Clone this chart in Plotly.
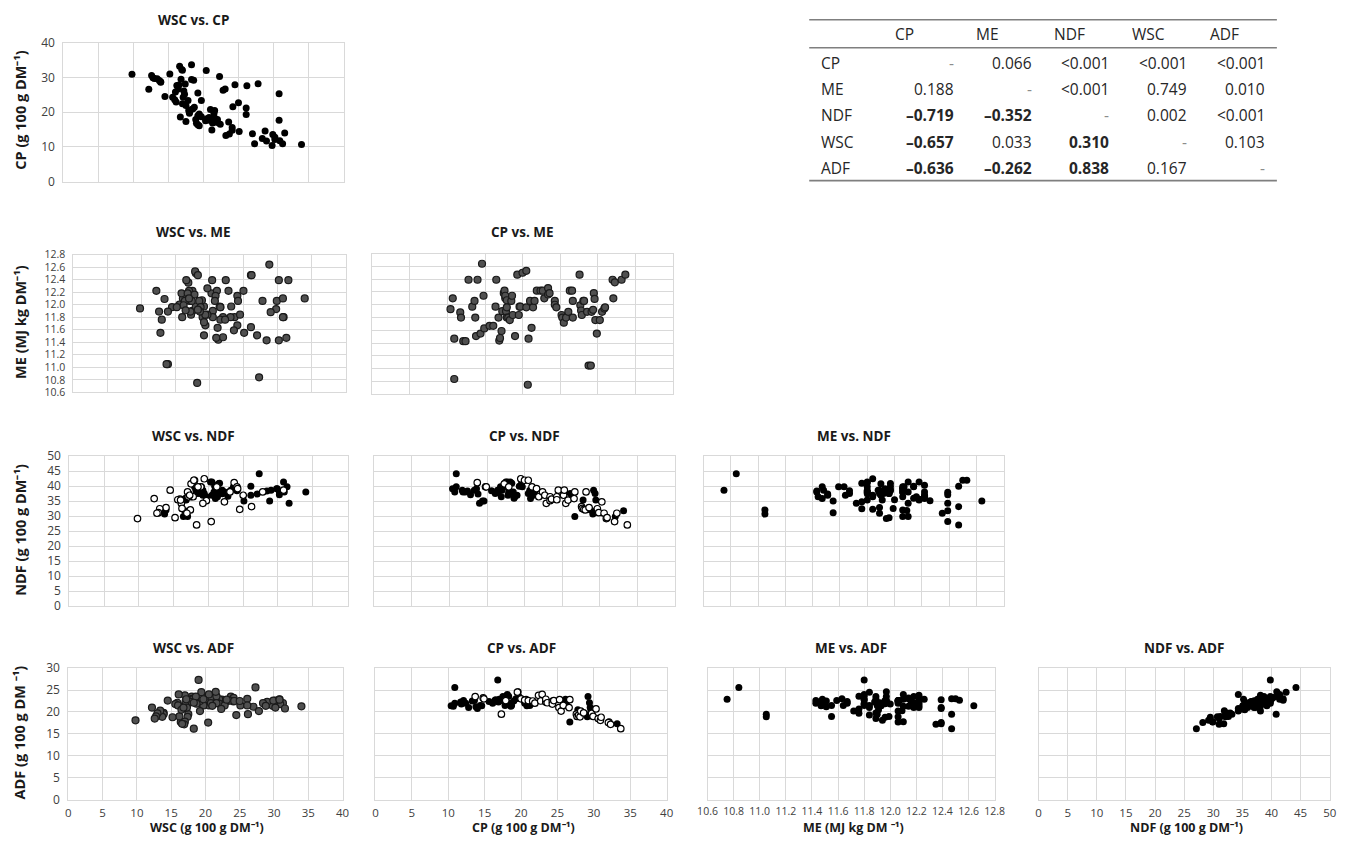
import plotly.graph_objects as go

W, H = 1351, 845

# ---------------- data (one entry per sample) ----------------
cp = [10.4, 10.7, 10.9, 10.9, 11.7, 11.8, 12.1, 12.4, 12.8, 13.3,
      13.6, 13.7, 13.8, 14.0, 14.4, 14.6, 14.8, 14.9, 15.6, 16.1,
      16.4, 16.5, 16.8, 16.9, 17.0, 17.2, 17.3, 17.5, 17.6, 17.7,
      17.7, 17.8, 17.9, 17.9, 17.9, 18.1, 18.3, 18.5, 18.6, 18.7,
      19.0, 19.3, 19.5, 19.6, 19.7, 20.0, 20.5, 20.5, 20.7, 20.8,
      21.0, 21.2, 21.4, 21.6, 21.9, 22.4, 22.7, 22.9, 23.4, 23.4,
      23.6, 24.3, 24.3, 24.5, 25.2, 25.3, 25.5, 25.8, 26.1, 26.3,
      26.6, 26.7, 26.7, 27.6, 27.7, 27.8, 27.9, 28.1, 28.2, 28.6,
      28.8, 29.1, 29.2, 29.4, 29.5, 29.6, 29.7, 29.9, 30.3, 30.6,
      30.9, 31.0, 32.0, 32.1, 32.3, 33.2, 33.7]
me = [11.93, 12.10, 10.84, 11.47, 11.88, 11.80, 11.43, 11.43, 12.39, 11.97,
      12.06, 11.80, 11.51, 12.39, 11.55, 12.64, 12.14, 11.63, 11.67, 11.67,
      11.97, 12.39, 11.80, 11.44, 11.48, 11.59, 11.90, 12.18, 12.22, 12.10,
      12.14, 11.90, 12.07, 11.96, 11.80, 11.80, 11.76, 12.06, 12.14, 11.84,
      11.51, 12.47, 11.84, 11.97, 11.97, 12.50, 12.53, 11.96, 10.75, 11.47,
      12.06, 11.64, 11.96, 12.06, 12.22, 12.22, 12.22, 12.10, 12.16, 12.26,
      12.18, 12.06, 12.00, 11.96, 11.84, 11.80, 11.72, 11.80, 11.89, 12.22,
      12.22, 12.06, 11.80, 12.47, 11.99, 11.91, 11.84, 12.06, 12.06, 11.89,
      11.05, 11.05, 11.89, 11.92, 12.18, 12.09, 11.76, 11.55, 11.76, 11.89,
      11.94, 11.96, 12.39, 12.10, 12.35, 12.39, 12.47]
wsc = [29.8, 34.0, 27.3, 31.3, 29.0, 30.9, 30.2, 28.4, 30.2, 23.2,
       29.9, 23.7, 27.0, 31.6, 25.1, 28.8, 24.1, 21.2, 24.1, 19.4,
       19.2, 22.4, 19.0, 21.3, 22.0, 23.6, 17.5, 20.3, 21.1, 30.8,
       20.9, 20.5, 18.9, 21.6, 22.0, 20.5, 21.6, 20.8, 16.7, 19.7,
       19.2, 26.1, 19.4, 21.5, 18.0, 18.0, 17.9, 21.6, 18.2, 21.0,
       18.5, 26.1, 18.7, 24.2, 17.5, 17.0, 25.0, 16.1, 17.8, 19.7,
       15.9, 17.1, 15.6, 14.5, 17.3, 30.8, 19.2, 16.0, 17.2, 22.8,
       12.2, 16.4, 23.1, 26.2, 16.2, 16.5, 24.5, 17.4, 27.8, 13.9,
       13.9, 13.7, 18.6, 18.3, 16.8, 13.4, 13.0, 12.8, 22.3, 12.6,
       9.8, 15.2, 20.4, 17.0, 16.9, 16.6, 18.3]
ndf = [39.2, 38.1, 44.2, 39.8, 38.7, 38.1, 38.1, 38.4, 37.2, 38.7,
       39.2, 41.2, 37.4, 34.3, 35.1, 35.1, 39.8, 39.8, 38.5, 37.6,
       38.7, 38.0, 39.8, 36.5, 38.7, 39.8, 40.8, 41.4, 40.3, 41.4,
       40.0, 37.0, 39.8, 38.1, 37.5, 41.4, 41.0, 38.1, 36.0, 36.5,
       37.0, 40.0, 42.5, 40.9, 39.8, 42.0, 42.0, 37.6, 38.7, 35.9,
       39.8, 37.0, 37.6, 39.2, 36.5, 38.1, 37.0, 34.3, 36.5, 35.2,
       35.7, 36.5, 35.5, 38.7, 37.0, 38.7, 34.3, 35.4, 37.6, 36.7,
       35.9, 29.9, 38.1, 33.2, 32.6, 35.4, 32.3, 32.1, 38.1, 32.9,
       32.1, 30.7, 38.7, 37.6, 35.4, 31.9, 32.5, 31.2, 34.8, 31.0,
       29.2, 29.5, 28.2, 29.9, 31.0, 31.8, 27.1]
adf = [21.4, 21.3, 25.6, 22.0, 22.3, 21.8, 22.6, 22.0, 21.0, 22.5,
       22.6, 23.5, 21.2, 20.8, 21.5, 21.4, 23.2, 23.0, 22.4, 22.0,
       22.6, 22.8, 27.3, 22.3, 22.9, 22.6, 19.5, 23.5, 23.3, 22.9,
       23.0, 21.5, 22.6, 22.2, 21.9, 24.0, 23.6, 22.0, 21.3, 21.5,
       22.5, 23.0, 24.5, 24.6, 23.5, 23.0, 22.7, 22.0, 22.9, 21.4,
       22.6, 21.5, 21.9, 22.5, 22.0, 23.8, 22.5, 24.0, 22.3, 22.9,
       22.1, 22.4, 21.8, 22.6, 21.0, 22.8, 20.2, 21.5, 22.9, 21.5,
       21.0, 17.7, 22.8, 19.5, 19.0, 20.5, 19.3, 18.9, 20.2, 19.8,
       19.5, 18.9, 23.5, 22.1, 21.0, 20.3, 19.7, 19.0, 20.7, 18.5,
       18.1, 18.8, 17.6, 17.8, 17.2, 17.3, 16.2]
# 1 = filled marker, 0 = open marker (used in the split panels)
filled = [1, 1, 1, 1, 1, 1, 1, 1, 1, 1,
          1, 0, 1, 1, 1, 1, 0, 0, 1, 1,
          1, 1, 1, 1, 1, 1, 0, 1, 1, 1,
          1, 1, 0, 1, 1, 1, 1, 1, 1, 1,
          1, 1, 0, 1, 1, 0, 0, 1, 1, 1,
          0, 1, 1, 0, 0, 0, 0, 0, 0, 0,
          0, 0, 0, 0, 0, 0, 0, 0, 1, 1,
          0, 1, 0, 0, 0, 1, 0, 0, 0, 0,
          1, 1, 1, 1, 1, 1, 0, 0, 0, 0,
          0, 0, 0, 1, 0, 1, 0]

variables = {"WSC": wsc, "CP": cp, "ME": me, "NDF": ndf, "ADF": adf}
axis_range = {"WSC": [0, 40], "CP": [0, 40], "ME": [10.6, 12.8], "NDF": [0, 50], "ADF": [0, 30]}
x_dtick = {"WSC": 5, "CP": 5, "ME": 0.2, "NDF": 5}
y_dtick = {"CP": 10, "ME": 0.2, "NDF": 5, "ADF": 5}
y_titles = {"CP": "CP (g 100 g DM⁻¹)", "ME": "ME (MJ kg DM⁻¹)",
            "NDF": "NDF (g 100 g DM⁻¹)", "ADF": "ADF (g 100 g DM ⁻¹)"}
x_titles = {"WSC": "WSC (g 100 g DM⁻¹)", "CP": "CP (g 100 g DM⁻¹)",
            "ME": "ME (MJ kg DM ⁻¹)", "NDF": "NDF (g 100 g DM⁻¹)"}

table_header = ["CP", "ME", "NDF", "WSC", "ADF"]
table_rows = ["CP", "ME", "NDF", "WSC", "ADF"]
table_values = [
    ["-", "0.066", "&lt;0.001", "&lt;0.001", "&lt;0.001"],
    ["0.188", "-", "&lt;0.001", "0.749", "0.010"],
    ["–0.719", "–0.352", "-", "0.002", "&lt;0.001"],
    ["–0.657", "0.033", "0.310", "-", "0.103"],
    ["–0.636", "–0.262", "0.838", "0.167", "-"],
]
table_bold = [
    [0, 0, 0, 0, 0],
    [0, 0, 0, 0, 0],
    [1, 1, 0, 0, 0],
    [1, 0, 1, 0, 0],
    [1, 1, 1, 0, 0],
]

# ---------------- layout of panels (target pixel boxes: x0, x1, y0, y1) ----------------
panels = [
    dict(x="WSC", y="CP", style="black", box=(62, 343, 42, 181), col=0, row=0),
    dict(x="WSC", y="ME", style="gray", box=(72, 345, 254, 392), col=0, row=1),
    dict(x="CP", y="ME", style="gray", box=(372, 673, 253, 394), col=1, row=1),
    dict(x="WSC", y="NDF", style="split", box=(68, 347, 456, 606), col=0, row=2),
    dict(x="CP", y="NDF", style="split", box=(374, 675, 456, 606), col=1, row=2),
    dict(x="ME", y="NDF", style="black", box=(704, 1005, 456, 606), col=2, row=2),
    dict(x="WSC", y="ADF", style="gray", box=(67, 342, 668, 800), col=0, row=3),
    dict(x="CP", y="ADF", style="split", box=(375, 667, 668, 800), col=1, row=3),
    dict(x="ME", y="ADF", style="black", box=(708, 996, 668, 800), col=2, row=3),
    dict(x="NDF", y="ADF", style="black", box=(1040, 1332, 668, 800), col=3, row=3),
]
title_y = [19, 231, 436, 648]
title_x_col = [193, None, None, None]

# calibration of the page photograph (observed slight shrink + offset)
SX, BX = 0.988, 8.5
SY, BY = 0.981, 8.2


def fx(p):
    return ((p - BX) / SX) / W


def fy(p):
    return 1 - ((p - BY) / SY) / H


FONT = "Open Sans"
GRID = "#d9d9d9"

fig = go.Figure()
annotations = []
layout_axes = {}

for i, p in enumerate(panels):
    n = i + 1
    xs = variables[p["x"]]
    ys = variables[p["y"]]
    xa = "x" if n == 1 else f"x{n}"
    ya = "y" if n == 1 else f"y{n}"
    msize = 7
    if p["style"] == "black":
        fig.add_trace(go.Scatter(x=xs, y=ys, mode="markers", xaxis=xa, yaxis=ya,
                                 marker=dict(size=msize, color="#000000", line=dict(width=0))))
    elif p["style"] == "gray":
        fig.add_trace(go.Scatter(x=xs, y=ys, mode="markers", xaxis=xa, yaxis=ya,
                                 marker=dict(size=msize, color="#505050",
                                             line=dict(width=1.2, color="#1a1a1a"))))
    else:
        fx_f = [a for a, g in zip(xs, filled) if g == 1]
        fy_f = [b for b, g in zip(ys, filled) if g == 1]
        fx_o = [a for a, g in zip(xs, filled) if g == 0]
        fy_o = [b for b, g in zip(ys, filled) if g == 0]
        fig.add_trace(go.Scatter(x=fx_f, y=fy_f, mode="markers", xaxis=xa, yaxis=ya,
                                 marker=dict(size=msize, color="#000000", line=dict(width=0))))
        fig.add_trace(go.Scatter(x=fx_o, y=fy_o, mode="markers", xaxis=xa, yaxis=ya,
                                 marker=dict(size=msize - 0.5, color="#ffffff",
                                             line=dict(width=1.2, color="#000000"))))

    x0, x1, y0, y1 = p["box"]
    show_x = p["row"] == 3
    show_y = p["col"] == 0
    xr = axis_range[p["x"]]
    yr = axis_range[p["y"]]
    xkey = "xaxis" if n == 1 else f"xaxis{n}"
    ykey = "yaxis" if n == 1 else f"yaxis{n}"
    xfs = 10.5 if p["x"] == "ME" else 11.5
    yfs = 10.5 if p["y"] == "ME" else 12
    layout_axes[xkey] = dict(
        domain=[fx(x0), fx(x1)], anchor=ya, range=xr, tick0=xr[0], dtick=x_dtick[p["x"]],
        showgrid=True, gridcolor=GRID, gridwidth=1, zeroline=False,
        showline=True, linecolor=GRID, linewidth=1, mirror=True,
        showticklabels=show_x, ticks="outside" if show_x else "", ticklen=2,
        tickcolor="rgba(0,0,0,0)", tickformat=".1f" if p["x"] == "ME" else "d",
        tickangle=0,
        tickfont=dict(family=FONT, size=xfs, color="#404040"), fixedrange=True,
    )
    layout_axes[ykey] = dict(
        domain=[fy(y1), fy(y0)], anchor=xa, range=yr, tick0=yr[0], dtick=y_dtick[p["y"]],
        showgrid=True, gridcolor=GRID, gridwidth=1, zeroline=False,
        showline=True, linecolor=GRID, linewidth=1, mirror=True,
        showticklabels=show_y, ticks="outside" if show_y else "", ticklen=5,
        tickcolor="rgba(0,0,0,0)", tickformat=".1f" if p["y"] == "ME" else "d",
        tickfont=dict(family=FONT, size=yfs, color="#404040"), fixedrange=True,
    )

    # panel title
    tx = title_x_col[p["col"]] if title_x_col[p["col"]] else (x0 + x1) / 2
    annotations.append(dict(x=fx(tx), y=fy(title_y[p["row"]]), xref="paper", yref="paper",
                            text=f"<b>{p['x']} vs. {p['y']}</b>", showarrow=False,
                            xanchor="center", yanchor="middle",
                            font=dict(family=FONT, size=13.5, color="#1a1a1a")))
    if show_y:
        annotations.append(dict(x=fx(19), y=fy((y0 + y1) / 2 - 2), xref="paper", yref="paper",
                                text=f"<b>{y_titles[p['y']]}</b>", showarrow=False, textangle=-90,
                                xanchor="center", yanchor="middle",
                                font=dict(family=FONT, size=14.5, color="#1a1a1a")))
    if show_x:
        annotations.append(dict(x=fx((x0 + x1) / 2 + 2), y=0, xref="paper", yref="paper",
                                text=f"<b>{x_titles[p['x']]}</b>", showarrow=False,
                                xanchor="center", yanchor="bottom", borderpad=0,
                                font=dict(family=FONT, size=12.5, color="#1a1a1a")))

# ---------------- correlation table ----------------
TFONT = dict(family=FONT, size=15.5, color="#262626")
header_x = [894, 975, 1053, 1132, 1210]
value_right = [957, 1035, 1113, 1191, 1269]
row_y = [62, 88, 114.5, 141, 167]
for j, h in enumerate(table_header):
    annotations.append(dict(x=fx(header_x[j]), y=fy(33), xref="paper", yref="paper", text=h,
                            showarrow=False, xanchor="left", yanchor="middle", font=TFONT))
for r, name in enumerate(table_rows):
    annotations.append(dict(x=fx(820), y=fy(row_y[r]), xref="paper", yref="paper", text=name,
                            showarrow=False, xanchor="left", yanchor="middle", font=TFONT))
    for c, v in enumerate(table_values[r]):
        txt = f"<b>{v}</b>" if table_bold[r][c] else v
        col = "#8c8c8c" if v == "-" else "#262626"
        annotations.append(dict(x=fx(value_right[c]), y=fy(row_y[r]), xref="paper", yref="paper",
                                text=txt, showarrow=False, xanchor="right", yanchor="middle",
                                font=dict(family=FONT, size=15.5, color=col)))

shapes = []
for yy in (19, 47, 180):
    shapes.append(dict(type="line", xref="paper", yref="paper", x0=fx(810), x1=fx(1279),
                       y0=fy(yy), y1=fy(yy), line=dict(color="#7f7f7f", width=1.6)))

fig.update_layout(
    width=W, height=H, margin=dict(l=0, r=0, t=0, b=0),
    plot_bgcolor="white", paper_bgcolor="white", showlegend=False,
    annotations=annotations, shapes=shapes, **layout_axes,
)

fig.write_html("out.html", config={"displayModeBar": False},
               post_script="document.body.style.margin='0px';")
